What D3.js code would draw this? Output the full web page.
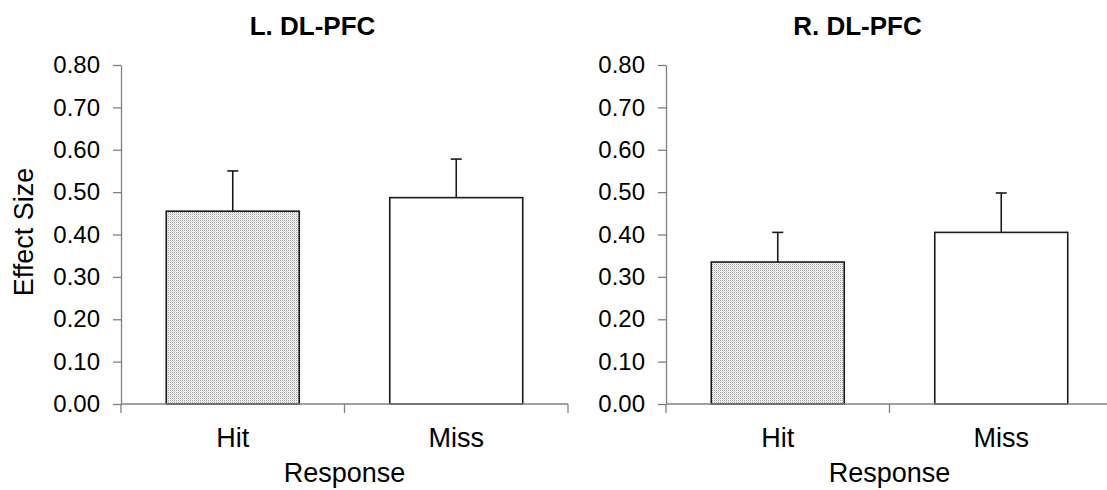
<!DOCTYPE html>
<html>
<head>
<meta charset="utf-8">
<script src="https://cdn.jsdelivr.net/npm/d3@7"></script>
<style>
  body { margin: 0; background: #fff; }
  svg { display: block; font-family: "Liberation Sans", Arial, sans-serif; }
</style>
</head>
<body>
<div id="chart"></div>
<script>
// Data
const panelTitles = ['L. DL-PFC', 'R. DL-PFC'];
const categories = ['Hit', 'Miss'];
const effectSizes = [
  [0.455, 0.487], // L. DL-PFC
  [0.335, 0.405], // R. DL-PFC
];
const errorTops = [
  [0.550, 0.578],
  [0.405, 0.498],
];
const yTicks = [0, 0.1, 0.2, 0.3, 0.4, 0.5, 0.6, 0.7, 0.8];
const barFills = ['url(#stipple)', '#fff'];

const W = 1107, H = 490;
const PLOT = { top: 65, bottom: 404, width: 447 };
const panelX = [121, 666];

const svg = d3.select('#chart').append('svg')
  .attr('width', W)
  .attr('height', H);

// fine stippled fill for the Hit bars
const pat = svg.append('defs').append('pattern')
  .attr('id', 'stipple')
  .attr('width', 2).attr('height', 2)
  .attr('patternUnits', 'userSpaceOnUse');
pat.append('rect').attr('width', 2).attr('height', 2).attr('fill', '#fff');
pat.append('rect').attr('width', 1).attr('height', 1).attr('fill', '#a0a0a0');
pat.append('rect').attr('x', 1).attr('y', 1).attr('width', 1).attr('height', 1).attr('fill', '#d0d0d0');

const y = d3.scaleLinear().domain([0, 0.8]).range([PLOT.bottom, PLOT.top]);

function drawPanel(i) {
  const x0 = panelX[i];
  const x = d3.scaleBand().domain(categories).range([x0, x0 + PLOT.width]).padding(0);
  const barW = x.bandwidth() * 0.595;
  const g = svg.append('g');

  // bars
  g.selectAll('rect.bar')
    .data(categories)
    .join('rect')
    .attr('class', 'bar')
    .attr('x', d => x(d) + (x.bandwidth() - barW) / 2)
    .attr('y', (d, j) => y(effectSizes[i][j]))
    .attr('width', barW)
    .attr('height', (d, j) => y(0) - y(effectSizes[i][j]))
    .attr('fill', (d, j) => barFills[j])
    .attr('stroke', '#1a1a1a')
    .attr('stroke-width', 1.6);

  // error bars (upper only)
  const cx = d => x(d) + x.bandwidth() / 2;
  g.selectAll('line.err')
    .data(categories)
    .join('line')
    .attr('class', 'err')
    .attr('x1', cx).attr('x2', cx)
    .attr('y1', (d, j) => y(effectSizes[i][j]))
    .attr('y2', (d, j) => y(errorTops[i][j]))
    .attr('stroke', '#1a1a1a')
    .attr('stroke-width', 1.6);
  g.selectAll('line.cap')
    .data(categories)
    .join('line')
    .attr('class', 'cap')
    .attr('x1', d => cx(d) - 5.5).attr('x2', d => cx(d) + 5.5)
    .attr('y1', (d, j) => y(errorTops[i][j]))
    .attr('y2', (d, j) => y(errorTops[i][j]))
    .attr('stroke', '#1a1a1a')
    .attr('stroke-width', 1.6);

  // y axis
  const yAxis = g.append('g')
    .attr('transform', `translate(${x0},0)`)
    .call(d3.axisLeft(y).tickValues(yTicks).tickFormat(d3.format('.2f')).tickSize(8).tickSizeOuter(0).tickPadding(13));
  yAxis.select('.domain').attr('stroke', '#808080').attr('stroke-width', 1.3);
  yAxis.selectAll('.tick line').attr('stroke', '#808080').attr('stroke-width', 1.3);
  yAxis.selectAll('.tick text').attr('font-size', 24).attr('fill', '#000').attr('font-family', null);

  // x axis with ticks at category boundaries
  const bounds = [x0, x0 + x.step(), x0 + PLOT.width];
  const xAxis = g.append('g');
  xAxis.append('line')
    .attr('x1', x0).attr('x2', x0 + PLOT.width)
    .attr('y1', y(0)).attr('y2', y(0))
    .attr('stroke', '#808080').attr('stroke-width', 1.3);
  xAxis.selectAll('line.xt')
    .data(bounds)
    .join('line')
    .attr('class', 'xt')
    .attr('x1', d => d).attr('x2', d => d)
    .attr('y1', y(0)).attr('y2', y(0) + 9)
    .attr('stroke', '#808080').attr('stroke-width', 1.3);
  xAxis.selectAll('text.cat')
    .data(categories)
    .join('text')
    .attr('class', 'cat')
    .attr('x', cx)
    .attr('y', 447)
    .attr('text-anchor', 'middle')
    .attr('font-size', 27)
    .text(d => d);

  g.append('text')
    .attr('x', x0 + x.step())
    .attr('y', 482)
    .attr('text-anchor', 'middle')
    .attr('font-size', 27)
    .text('Response');

  g.append('text')
    .attr('x', x0 + PLOT.width / 2 - 32)
    .attr('y', 35)
    .attr('text-anchor', 'middle')
    .attr('font-size', 26)
    .attr('font-weight', 'bold')
    .text(panelTitles[i]);
}

drawPanel(0);
drawPanel(1);

svg.append('text')
  .attr('transform', 'translate(33,232) rotate(-90)')
  .attr('text-anchor', 'middle')
  .attr('font-size', 27)
  .text('Effect Size');
</script>
</body>
</html>
